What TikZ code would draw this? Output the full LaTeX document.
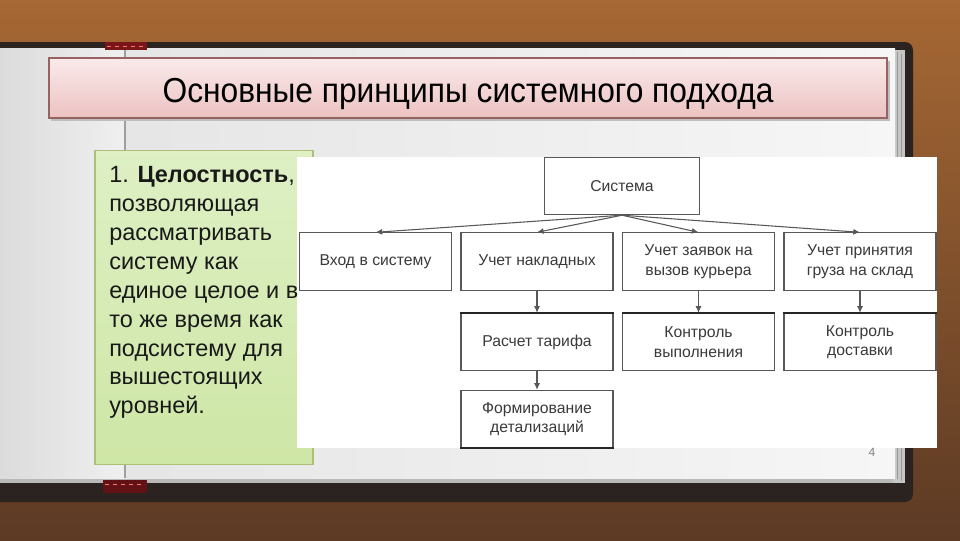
\documentclass[tikz,border=0pt]{standalone}
\usepackage{fontspec}
\setmainfont{Liberation Sans}
\usetikzlibrary{arrows.meta}

\definecolor{woodtop}{RGB}{166,104,52}
\definecolor{woodbot}{RGB}{92,58,36}
\definecolor{cover}{RGB}{42,35,31}
\definecolor{titletop}{RGB}{250,234,234}
\definecolor{titlebot}{RGB}{236,194,194}
\definecolor{titleline}{RGB}{150,98,98}
\definecolor{greentop}{RGB}{222,240,196}
\definecolor{greenbot}{RGB}{206,230,166}
\definecolor{greenline}{RGB}{172,192,122}
\definecolor{boxline}{RGB}{88,88,88}
\definecolor{boxtext}{RGB}{58,58,58}
\definecolor{markred}{RGB}{120,22,26}

\tikzset{
  blk/.style={draw=boxline, line width=0.8pt, fill=white, text=boxtext,
    minimum width=114pt, minimum height=43pt, align=center,
    font=\fontsize{11.8}{14.6}\selectfont},
  arr/.style={draw=boxline, line width=0.8pt, -{Latex[length=5pt,width=4.5pt]}},
  heavy/.style={draw=black!85, line width=1.6pt}
}

\begin{document}
\begin{tikzpicture}[x=0.75pt,y=0.75pt,yscale=-1,xscale=1]
\useasboundingbox (0,0) rectangle (960,540);
% wood background
\fill[top color=woodtop, bottom color=woodbot] (0,0) rectangle (960,540);
% book cover
\fill[cover, rounded corners=6pt] (-10,42) rectangle (913,502);
% page stack on the right and below
\fill[gray!55] (0,474) rectangle (905,483);
\fill[gray!45] (893,50) rectangle (905,483);
\draw[gray!80] (897,52) -- (897,479);
\draw[gray!80] (901,54) -- (901,481);
% page
\fill[left color=gray!28, right color=gray!12] (0,48) rectangle (125,478);
\fill[left color=gray!20, right color=gray!7] (125,48) rectangle (895,478);
\draw[gray!75, line width=0.8pt] (125,48) -- (125,478);
% bookmarks
\fill[markred] (105,42) rectangle (147,50);
\draw[red!55!white, dashed, line width=0.6pt] (107,46) -- (145,46);
\fill[markred!80!black] (103,480) rectangle (147,493);
\draw[red!55!white, dashed, line width=0.6pt] (105,484) -- (145,484);

% title bar
\fill[black!25] (51,61) rectangle (890,121);
\node[draw=titleline, line width=0.8pt, top color=titletop, bottom color=titlebot,
  minimum width=628.5pt, minimum height=45pt, inner sep=0] (titlebar) at (468,88) {};
\node[font=\fontsize{26}{28}\selectfont, inner sep=0] (title) at (468,94)
  {\scalebox{0.915}[1]{Основные принципы системного подхода}};

% green note
\node[draw=greenline, line width=0.8pt, top color=greentop, bottom color=greenbot,
  minimum width=163.5pt, minimum height=236pt, inner sep=0] (note) at (204,307.5) {};

% white panel
\node[fill=white, minimum width=480pt, minimum height=218pt, inner sep=0] (panel) at (617,302.5) {};

% diagram
\node[blk, minimum width=116pt] (sys) at (622,186) {Система};
\node[blk] (vhod) at (375.5,261.5) {Вход в систему};
\node[blk] (nakl) at (537,261.5) {Учет накладных};
\node[blk] (zayav) at (698.5,261.5) {Учет заявок на\\вызов курьера};
\node[blk] (gruz) at (860,261.5) {Учет принятия\\груза на склад};
\node[blk] (tarif) at (537,342) {Расчет тарифа};
\node[blk] (kontr) at (698.5,342) {Контроль\\выполнения};
\node[blk] (dost) at (860,342) {Контроль\\доставки};
\node[blk] (detal) at (537,419) {Формирование\\детализаций};

% heavy edges
\draw[heavy] (tarif.north west) -- (tarif.north east);
\draw[heavy] (kontr.north west) -- (kontr.north east);
\draw[heavy] (dost.north west) -- (dost.north east);
\draw[heavy] (detal.south west) -- (detal.south east);

\draw[arr] (sys.south) -- (vhod.north);
\draw[arr] (sys.south) -- (nakl.north);
\draw[arr] (sys.south) -- (zayav.north);
\draw[arr] (sys.south) -- (gruz.north);
\draw[arr] (nakl) -- (tarif);
\draw[arr] (zayav) -- (kontr);
\draw[arr] (gruz) -- (dost);
\draw[arr] (tarif) -- (detal);

% note text
\node[anchor=north west, inner sep=0, align=left, text=black!90,
  font=\fontsize{17.6}{21.7}\selectfont] (notetext) at (109,166)
  {1. \textbf{Целостность},\\позволяющая\\рассматривать\\систему как\\единое целое и в\\то же время как\\подсистему для\\вышестоящих\\уровней.};

% page number
\node[text=gray, font=\fontsize{9}{10}\selectfont] (pagenum) at (872,452) {4};
\end{tikzpicture}
\end{document}
